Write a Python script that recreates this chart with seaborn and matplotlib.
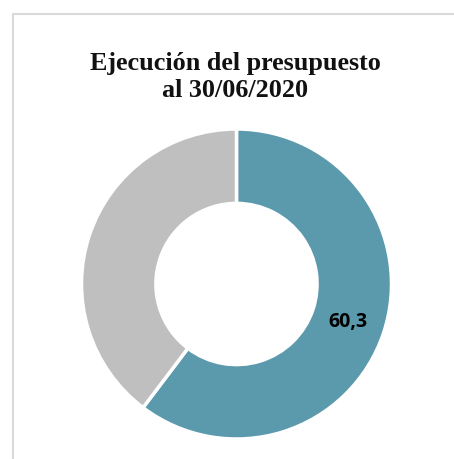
import matplotlib
matplotlib.use("Agg")
import matplotlib.pyplot as plt
import seaborn as sns
from matplotlib.patches import Rectangle

categories = ["Ejecutado", "Pendiente"]
values = [60.3, 39.7]
colors = ["#5B99AD", "#BFBFBF"]
title = "Ejecución del presupuesto\nal 30/06/2020"

sns.set_theme(style="white")

W, H = 454, 460
fig = plt.figure(figsize=(W / 100, H / 100), dpi=100)
fig.patch.set_facecolor("white")

# chart frame (only left/top visible)
fig.patches.append(Rectangle((12.5 / W, -0.1), 1.2, 1.1 - 14.5 / H, transform=fig.transFigure,
                             fill=False, edgecolor="#D9D9D9", linewidth=1.5))

cx, cy, r = 236.5, 285, 155
ax = fig.add_axes([(cx - r) / W, (H - cy - r) / H, 2 * r / W, 2 * r / H])


def fmt(p):
    return f"{p:.1f}".replace(".", ",") if p > 50 else ""


wedges, texts, autotexts = ax.pie(
    values, colors=colors, startangle=90, counterclock=False,
    autopct=fmt, pctdistance=0.76,
    wedgeprops=dict(width=0.48, edgecolor="white", linewidth=2.5),
    textprops=dict(fontsize=14, fontweight="bold", color="black", family="Open Sans"),
)
ax.set_aspect("equal")
ax.set_xlim(-1, 1)
ax.set_ylim(-1, 1)
ax.axis("off")

fig.text(235.5 / W, 1 - 77 / H, title, ha="center", va="center", fontsize=18.8,
         fontweight="bold", family="Liberation Serif", linespacing=1.22, color="#111111")

fig.savefig("out.png", dpi=100)
